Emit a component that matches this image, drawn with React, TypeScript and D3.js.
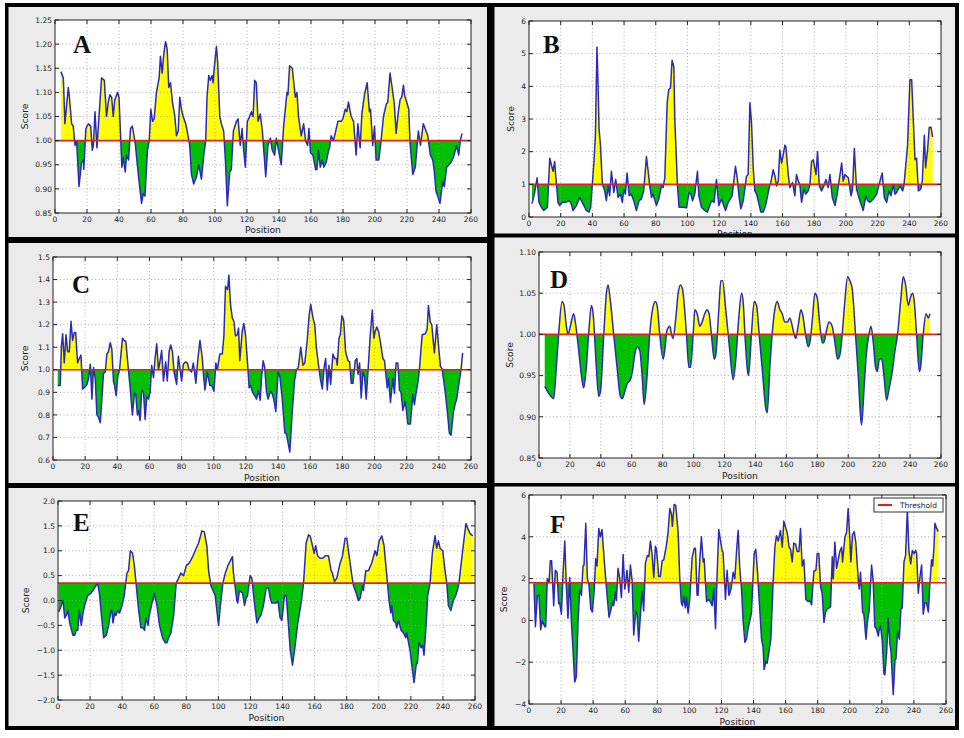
import React from 'react';
import * as d3 from 'd3';

type Pt = [number, number];

// position axis ticks shared by all panels
const positionTicks = [0, 20, 40, 60, 80, 100, 120, 140, 160, 180, 200, 220, 240, 260];

const scoreTicksA = [0.85, 0.9, 0.95, 1.0, 1.05, 1.1, 1.15, 1.2, 1.25];
const scoreTicksB = [0, 1, 2, 3, 4, 5, 6];
const scoreTicksC = [0.6, 0.7, 0.8, 0.9, 1.0, 1.1, 1.2, 1.3, 1.4, 1.5];
const scoreTicksD = [0.85, 0.9, 0.95, 1.0, 1.05, 1.1];
const scoreTicksE = [-2, -1.5, -1, -0.5, 0, 0.5, 1, 1.5, 2];
const scoreTicksF = [-4, -2, 0, 2, 4, 6];

const thresholds = [1.0, 1.0, 1.0, 1.0, 0.35, 1.8];
const panelLetters = ['A', 'B', 'C', 'D', 'E', 'F'];

// [position, score]
const seriesA: Pt[] = [[3.7,1.143],[5.2,1.13],[6.2,1.035],[8.3,1.11],[9,1.09],[10.4,1.035],[11.4,1.03],[12.5,0.99],[13.5,1.0],[15,0.905],[16.6,0.955],[17.7,0.96],[18,0.94],[19.3,1.025],[20.8,1.035],[22.3,1.03],[23.3,0.98],[24,0.99],[25,1.06],[26.2,0.985],[29.1,1.13],[30.8,1.125],[32.2,1.05],[33.3,1.08],[34.3,1.095],[35.4,1.09],[36.4,1.05],[37.4,1.085],[38,1.09],[39.1,1.1],[40,1.09],[41.8,0.945],[42.6,0.965],[43.9,0.935],[44.7,0.97],[46,0.96],[47.2,1.025],[48.3,1.03],[48.9,1.02],[50.3,0.99],[51,0.965],[52.4,0.92],[54.1,0.87],[55.1,0.89],[56.2,0.885],[57.8,0.98],[58.9,1.0],[59.9,1.065],[61,1.04],[62,1.045],[63.4,1.1],[65.1,1.13],[65.9,1.175],[67,1.14],[68,1.18],[69.1,1.205],[70.1,1.19],[71.1,1.11],[72.2,1.12],[73.4,1.08],[74.9,1.05],[75.9,1.01],[77,1.02],[78,1.09],[79,1.065],[80.1,1.05],[81.7,1.035],[82.6,1.02],[84.2,0.99],[85.3,0.93],[86.7,0.91],[88.4,0.925],[89.9,0.95],[91.5,0.92],[93,0.97],[94.2,1.0],[95,1.09],[96.1,1.135],[97.1,1.125],[98.2,1.135],[98.8,1.12],[99.8,1.16],[100.9,1.195],[101.7,1.16],[103,1.05],[104,1.035],[105.4,1.02],[106.5,0.96],[107.7,0.865],[109.2,0.935],[110.2,0.94],[111.5,1.02],[113.4,1.04],[114.4,1.045],[115.8,0.99],[116.9,1.025],[117.9,0.98],[119,0.945],[120.2,1.04],[121.7,1.05],[122.7,1.06],[123.8,1.05],[124.8,1.125],[125.8,1.12],[126.9,1.04],[128.3,1.055],[129.6,1.02],[131.7,0.925],[133.1,0.99],[134.6,1.005],[135.8,0.98],[137.3,0.97],[138.3,1.005],[140,0.975],[141.4,0.95],[142.9,1.03],[145,1.1],[145.6,1.095],[146.6,1.155],[148.3,1.15],[150.2,1.09],[151.2,1.1],[152.2,1.05],[153.9,1.01],[155.4,1.035],[156.6,1.0],[157.9,0.99],[158.7,1.025],[159.7,0.975],[161.2,0.97],[162.9,0.94],[163.7,0.94],[164.7,0.98],[165.8,0.945],[167,0.96],[168,0.945],[169.5,0.955],[171,0.98],[171.6,0.985],[172.6,1.01],[174.1,1.0],[176.8,1.04],[178.9,1.04],[179.9,1.045],[181.4,1.065],[182.4,1.06],[183.4,1.08],[185.1,1.05],[186.6,1.04],[188.2,0.97],[189.3,1.035],[190.7,0.985],[191.8,1.055],[193.4,1.095],[195.1,1.12],[196.5,1.06],[197.2,1.065],[198.6,0.99],[199.7,1.03],[200.7,0.96],[202.4,0.96],[203.8,1.0],[205.3,1.05],[207,1.075],[208,1.08],[209.4,1.14],[210.7,1.11],[212.1,1.075],[213.2,1.015],[214.6,1.06],[215.7,1.085],[216.7,1.09],[217.8,1.115],[218.4,1.095],[219.8,1.08],[221.1,1.065],[221.9,0.995],[223.6,0.93],[225.2,0.945],[227.1,1.02],[228.4,0.99],[230.2,1.035],[231.9,1.02],[233,1.01],[234.6,0.97],[236.1,0.96],[237.1,0.935],[238.1,0.895],[239.2,0.885],[240.6,0.87],[242.3,0.915],[243.3,0.905],[244.8,0.945],[247.5,0.955],[249,0.965],[251,0.99],[252.3,0.97],[253.3,1.0],[254.4,1.015]];

const seriesB: Pt[] = [[1.9,0.41],[3.6,0.75],[5.1,1.2],[6.3,0.45],[7.8,0.3],[9.3,0.2],[10.5,0.25],[11.6,0.3],[13.1,1.8],[14.1,1.6],[15.2,1.4],[16.2,1.7],[16.8,1.3],[18.3,0.45],[19.4,0.35],[21.1,0.45],[23.2,0.45],[25.3,0.5],[26.7,0.4],[27.8,0.2],[29.9,0.35],[32,0.6],[34.1,0.4],[36.2,0.2],[37.9,0.15],[38.9,0.3],[41,1.7],[41.9,2.5],[42.9,5.2],[43.6,4.0],[44.2,2.7],[45.1,2.2],[46.3,1.0],[47.8,0.8],[48.8,0.5],[49.9,0.95],[50.9,0.65],[52,1.4],[53.5,0.75],[54.7,1.15],[56.2,0.6],[57.7,0.7],[58.9,0.45],[59.8,0.85],[60.8,0.7],[61.9,1.35],[63.2,0.65],[64.6,0.7],[66.1,0.5],[67.8,0.2],[69.5,0.5],[70.9,0.55],[72.4,0.8],[74.1,1.85],[75.2,1.4],[76.2,0.95],[77.3,0.6],[78.3,0.7],[80.4,0.35],[81.9,0.55],[83.6,0.95],[84.6,0.9],[85.7,1.2],[87.2,3.5],[88.2,3.9],[89.3,3.95],[90.3,4.8],[91.4,4.6],[92,3.0],[93.7,0.95],[94.7,0.3],[97.3,0.3],[99.4,0.28],[101,0.75],[102.1,0.7],[103.2,0.5],[104.6,0.7],[106.3,1.4],[107.2,0.65],[108.8,0.3],[110.9,0.2],[112.6,0.15],[115.2,0.5],[116.8,0.45],[118.3,1.15],[119.8,0.35],[121.5,0.55],[124,0.2],[125.7,0.45],[128.2,0.65],[130.3,1.55],[131.4,1.2],[132.6,0.6],[133.7,0.25],[135.2,0.5],[137.3,1.25],[138.3,1.3],[139.4,3.5],[140.4,2.9],[141.5,1.5],[142.5,0.8],[143.6,0.7],[145.1,0.4],[146.3,0.15],[147.8,0.15],[149.3,0.35],[151.6,0.9],[152.6,1.05],[154.1,1.45],[155.2,1.25],[156.2,0.95],[157.3,1.1],[158.3,2.05],[159.4,1.65],[160.4,1.9],[161.5,2.2],[162.1,2.15],[163.6,1.3],[164.6,0.9],[166.3,1.05],[167.8,0.65],[168.8,1.3],[169.9,1.1],[170.9,1.0],[172,0.45],[173.5,0.85],[174.7,0.7],[176.2,0.8],[177.3,1.0],[178.3,1.7],[179.4,1.75],[181.1,1.3],[182.1,2.0],[183.2,0.95],[184.6,0.8],[186.1,0.95],[187.4,1.15],[188.8,0.9],[189.9,1.3],[191.4,0.6],[193.1,0.35],[194.5,0.7],[197.3,1.65],[198.3,1.1],[199.4,1.3],[200.4,1.25],[201.5,1.2],[203.2,0.65],[204.2,0.85],[205.3,2.1],[206.7,0.85],[208.8,0.5],[210.9,0.2],[212.6,0.65],[213.7,0.5],[215.2,0.45],[217.3,0.55],[219.4,0.7],[221.5,1.1],[222.9,1.35],[224.2,0.6],[225.7,0.45],[227.2,0.8],[228.4,0.65],[229.9,1.0],[230.9,0.7],[232,0.75],[234.1,0.95],[235.8,0.8],[236.6,0.95],[238.9,2.2],[240.4,4.2],[241.5,4.2],[242.5,3.0],[243.6,1.75],[244.6,1.8],[245.7,0.8],[247.2,0.85],[248.2,1.1],[249.5,2.5],[250.3,1.5],[251.6,2.1],[252.6,2.75],[253.7,2.75],[254.7,2.45]];

const seriesC: Pt[] = [[2.9,0.93],[4.5,0.93],[5.2,1.1],[6,1.16],[7,1.03],[8.1,1.155],[9.1,1.08],[10.1,1.08],[11.2,1.215],[12.2,1.13],[13.2,1.165],[14.1,1.165],[15.3,1.03],[16.3,1.05],[17.4,1.065],[18.4,0.915],[19.4,0.92],[21.1,0.935],[22.1,0.96],[23.2,1.025],[24.2,0.87],[25.2,1.01],[26.3,0.96],[27.3,0.8],[28.3,0.79],[29.4,0.765],[30.4,0.87],[31.4,0.985],[32.5,0.99],[33.5,1.07],[34.5,1.08],[35.6,1.12],[36.6,1.09],[37.6,0.95],[38.3,0.93],[39.3,0.885],[40.3,0.97],[41.4,1.0],[43.2,1.14],[44.3,1.13],[45.3,1.125],[46.9,1.0],[48,0.92],[49.4,0.8],[50.7,0.9],[51.5,0.89],[52.5,0.8],[53.2,0.82],[54.2,0.775],[55.2,0.91],[56.3,0.9],[57.3,0.78],[58.3,0.88],[59.4,0.87],[60.4,0.9],[61.4,1.02],[62.5,0.965],[63.5,1.05],[64.5,1.115],[65.6,1.0],[66.6,1.04],[67.6,1.085],[68.7,0.95],[70.1,1.035],[71.1,0.95],[72.2,1.08],[73.2,1.11],[74.3,1.08],[75.3,0.99],[76.9,0.935],[78,1.06],[80,0.95],[81.1,1.025],[82.5,1.035],[83.6,1.03],[84.6,1.0],[86.2,0.99],[87.3,1.03],[88.9,0.94],[90,1.04],[91.4,1.13],[92.9,1.05],[93.5,0.985],[94.5,0.91],[96,0.99],[97.6,0.93],[98.7,0.93],[100.1,0.905],[101.3,1.03],[102.2,1.0],[103.8,1.07],[105.3,1.07],[106.3,1.15],[107.3,1.37],[108.6,1.355],[109.4,1.42],[110.4,1.29],[111.5,1.23],[112.5,1.215],[113.5,1.15],[114.6,1.155],[115.4,1.185],[116.2,1.04],[117.7,1.17],[118.7,1.205],[119.8,1.15],[121,1.03],[122,0.92],[122.9,0.93],[124.1,0.9],[125.5,0.885],[126.6,0.87],[127.6,0.91],[128.9,0.865],[129.7,0.965],[130.7,1.04],[131.7,1.01],[132.8,0.9],[133.8,0.87],[135.3,0.905],[136.3,0.895],[137.3,0.87],[138.6,0.815],[140,0.99],[141.1,0.97],[142.5,0.88],[144.2,0.72],[145.2,0.715],[147.3,0.635],[148.7,0.8],[150.2,0.95],[151.4,1.0],[152.6,1.01],[154.1,1.1],[155.5,1.02],[156.6,1.03],[158,1.12],[159.3,1.24],[160.3,1.29],[161.7,1.23],[162.8,1.2],[163.8,1.1],[164.8,1.04],[166.3,0.96],[167.5,0.915],[168.6,1.01],[169.6,1.05],[170.6,0.91],[171.7,1.02],[172.7,0.935],[174.1,1.07],[175.2,1.05],[176.2,1.05],[176.8,1.02],[177.9,1.14],[178.7,1.155],[179.7,1.24],[180.8,1.22],[182,1.08],[183.5,1.04],[184.5,1.035],[185.5,0.94],[186.6,0.94],[188,1.04],[189,1.05],[189.7,0.98],[190.7,1.03],[191.7,0.875],[192.8,0.99],[193.8,0.97],[194.8,0.87],[195.9,0.99],[197.3,1.15],[198.6,1.265],[199.6,1.14],[200.4,1.17],[201.4,1.19],[202.5,1.17],[203.7,1.12],[205.2,1.05],[206.2,1.04],[207.9,0.92],[208.7,0.96],[209.9,0.855],[211.4,0.96],[212.4,0.895],[213.4,1.03],[214.5,1.03],[215.5,0.91],[216.5,0.9],[217.6,0.82],[218.6,0.845],[219.2,0.86],[220.7,0.76],[222.3,0.76],[223.8,0.89],[224.8,0.845],[225.9,0.9],[226.9,0.94],[227.9,1.0],[229.6,1.155],[231.6,1.16],[232.7,1.18],[233.5,1.285],[234.7,1.21],[235.6,1.2],[237.2,1.075],[238.7,1.2],[239.9,1.1],[241,1.015],[242,1.005],[243.8,0.91],[245.5,0.8],[246.5,0.72],[247.6,0.71],[249,0.81],[250,0.845],[251.1,0.87],[252.7,0.95],[253.8,1.0],[254.8,1.075]];

const seriesD: Pt[] = [[3.7,0.937],[5.8,0.93],[7.6,0.925],[9.5,0.922],[11.2,0.96],[12.7,1.0],[14.9,1.04],[16.2,1.035],[17.7,1.01],[18.8,1.0],[20.3,1.01],[22.4,1.025],[23.5,1.015],[25.7,0.98],[27.8,0.945],[28.9,0.935],[30.6,0.96],[32.1,1.0],[33.9,1.035],[35,1.025],[37.1,0.96],[38.6,0.925],[39.7,0.93],[41.9,1.0],[43.6,1.05],[44.7,1.06],[46.2,1.04],[48.3,1.0],[50.5,0.96],[52.6,0.925],[53.9,0.922],[55.4,0.93],[57,0.94],[59.1,0.945],[60.4,0.955],[61.9,0.975],[63.6,0.985],[65.2,0.98],[66.7,0.95],[68,0.915],[69.5,0.94],[71.6,1.0],[73.4,1.03],[75.3,1.04],[76.4,1.035],[78.1,1.0],[80.3,0.97],[81.3,0.98],[82.8,1.005],[84.6,1.01],[85.7,1.0],[86.7,0.995],[88.5,1.02],[90,1.05],[91.5,1.06],[92.8,1.055],[95.4,1.0],[96.9,0.96],[98,0.96],[99.7,1.0],[100.8,1.03],[102.3,1.025],[104,1.01],[105.5,1.015],[107.2,1.025],[108.7,1.03],[110,1.025],[111.5,1.0],[113.3,0.97],[114.3,0.975],[116.3,1.03],[117.6,1.065],[118.7,1.065],[120.8,1.03],[123.4,0.98],[125.6,0.945],[127.3,0.97],[129.2,1.02],[131,1.05],[132,1.04],[133.5,0.99],[134.6,0.96],[135.5,0.95],[137.4,1.0],[139.2,1.04],[140.7,1.035],[142.4,1.0],[144.5,0.955],[146.7,0.91],[147.6,0.905],[149.3,0.96],[150.8,1.0],[152.5,1.03],[154,1.04],[155.8,1.03],[157.3,1.025],[159,1.015],[160.7,1.015],[162.2,1.02],[163.8,1.01],[165,1.0],[166.1,0.995],[167.6,1.01],[169.4,1.03],[170.4,1.025],[172.4,1.0],[174.1,0.985],[175.2,0.99],[176.9,1.02],[178.4,1.05],[179.9,1.045],[181.7,1.01],[183.2,0.99],[184.2,0.99],[186,1.005],[187.5,1.015],[189.6,1.01],[191.4,0.99],[193.1,0.97],[194.6,0.975],[196.1,1.0],[197.8,1.04],[199.6,1.07],[201.1,1.065],[202.6,1.055],[204.7,1.0],[206.5,0.95],[208,0.9],[208.6,0.89],[210.4,0.94],[211.9,0.98],[213.4,1.0],[214.7,1.01],[216.2,0.99],[217.7,0.96],[218.8,0.955],[220.1,0.97],[221.6,0.97],[223.1,0.95],[224.8,0.92],[226.5,0.935],[228.5,0.955],[230.2,0.98],[231.9,1.0],[233.9,1.04],[235.6,1.07],[237.1,1.06],[238.8,1.035],[240.3,1.045],[241.6,1.05],[242.7,1.04],[244.2,1.0],[246,0.955],[246.8,0.96],[248.5,1.0],[250.3,1.025],[251.8,1.02],[252.9,1.025]];

const seriesE: Pt[] = [[0.4,-0.23],[1.5,-0.15],[2.5,-0.05],[3.1,0.0],[4.2,-0.35],[5.2,-0.3],[6.2,-0.2],[7.3,-0.45],[8.1,-0.55],[9.3,-0.7],[10.4,-0.7],[11.4,-0.6],[12.3,-0.6],[13.3,-0.2],[14.5,-0.5],[15.6,-0.25],[16.6,-0.1],[18.5,0.1],[20.6,0.15],[21.8,0.2],[23.7,0.3],[24.7,0.35],[25.8,0.15],[26.8,-0.2],[28.5,-0.75],[30.1,-0.7],[31.6,-0.5],[33,-0.2],[33.6,-0.2],[34.3,-0.45],[35.3,-0.25],[36.1,-0.3],[37.2,-0.2],[38.4,-0.25],[39.9,-0.1],[41.3,0.1],[43,0.55],[44,0.6],[45.1,1.0],[46.5,0.95],[47.6,0.7],[48.8,0.3],[50.3,-0.2],[51.7,-0.55],[53,-0.55],[54,-0.6],[54.8,-0.35],[56.1,-0.5],[56.9,-0.3],[58.6,-0.05],[59.2,0.0],[60,0.15],[61.7,-0.1],[63.3,-0.5],[65.2,-0.75],[66.9,-0.85],[67.9,-0.85],[69,-0.75],[70.4,-0.65],[72.1,-0.3],[73.7,0.35],[75.2,0.45],[76.6,0.55],[78.3,0.5],[80,0.7],[81.8,0.75],[83.5,0.85],[86.2,1.05],[87.6,1.15],[89.7,1.4],[91.2,1.38],[92.8,1.1],[93.9,0.6],[95.3,0.3],[98,0.1],[100.1,-0.5],[101.1,-0.15],[102.8,0.35],[104.3,0.55],[105.9,0.7],[108.8,0.88],[109.4,0.55],[111.5,0.0],[112.1,-0.05],[113.1,0.2],[115.1,0.15],[116.3,-0.1],[117.3,0.05],[118.2,0.1],[119.8,0.5],[120.9,0.45],[122.3,0.0],[124,-0.45],[125.4,-0.35],[126.5,-0.3],[128.1,-0.1],[129.8,0.25],[131.3,0.25],[132.3,0.05],[133.3,-0.05],[136,-0.05],[137.1,0.0],[138.5,-0.35],[139.6,-0.4],[141.2,0.1],[142.3,0.1],[143.7,-0.5],[144.8,-1.0],[146.2,-1.3],[147.5,-1.0],[149.3,-0.5],[151.6,-0.05],[153.1,0.35],[154.7,1.15],[156.2,1.32],[157.2,1.3],[158.3,1.15],[159.7,0.95],[160.7,1.1],[161.8,0.9],[163.4,0.85],[165.1,0.85],[166.6,0.9],[168.6,0.9],[170.3,0.6],[171.1,0.55],[172.4,0.38],[173.8,0.45],[175.9,0.75],[177.4,0.9],[179,1.25],[180.1,1.25],[181.1,1.0],[183.2,0.5],[184.2,0.3],[185.9,0.15],[187.3,0.0],[188.4,0.05],[189.8,0.3],[190.4,0.2],[191.9,0.6],[193.6,0.6],[195.6,0.75],[197.7,1.0],[198.8,0.9],[200.2,1.2],[201.9,1.3],[203.3,1.1],[205,0.5],[206.4,0.0],[207.5,-0.25],[208.1,-0.1],[209.1,-0.4],[210.6,-0.45],[211.2,-0.55],[212.3,-0.4],[213.9,-0.6],[215.4,-0.65],[216.8,-0.75],[217.4,-0.65],[219.5,-1.0],[221,-1.4],[222,-1.65],[223.3,-1.3],[224.1,-1.25],[225.1,-0.85],[226.4,-0.95],[227.4,-0.9],[228.2,-1.1],[229.5,-0.5],[230.5,0.1],[232,0.35],[233.4,0.95],[235.1,1.3],[236.1,1.05],[237.2,1.2],[238.2,1.05],[239.9,1.0],[241.3,0.6],[242.4,0.35],[243.4,-0.1],[244.9,-0.2],[246.5,0.0],[248,0.1],[249,0.2],[250,0.35],[252.3,1.0],[253.4,1.3],[254.4,1.55],[255.5,1.45],[256.9,1.35],[258.6,1.3]];

const seriesF: Pt[] = [[3.1,1.77],[4,-0.3],[5.2,1.2],[6.2,1.2],[7.3,-0.45],[8.3,0.0],[9.8,-0.3],[10.4,-0.3],[11.4,2.0],[12.5,1.8],[13.3,2.85],[14.1,2.85],[15.4,0.7],[16.4,2.4],[17.5,2.3],[18.5,0.8],[19.1,0.85],[20.2,0.3],[21.2,2.2],[22.3,3.8],[23.3,1.6],[24.3,0.1],[25.4,2.05],[26.4,0.0],[27.5,-1.5],[28.5,-2.95],[29.5,-2.7],[30.6,0.0],[31.6,1.5],[32.7,1.2],[33.7,2.6],[34.3,2.65],[35.4,4.65],[36.4,2.0],[37.4,1.7],[38.5,0.55],[39.5,0.4],[40.6,1.4],[41.6,2.95],[42.4,2.6],[43.5,4.4],[44.5,4.0],[45.5,4.35],[46.8,3.0],[47.8,2.0],[48.9,1.0],[49.9,0.15],[51,0.5],[52,0.85],[52.8,0.7],[53.9,1.35],[54.5,0.95],[55.5,2.5],[56.6,2.0],[57.6,1.1],[58.7,3.15],[59.7,1.5],[60.3,1.8],[61.1,2.4],[62.2,1.35],[63.2,2.65],[64.3,1.9],[65.3,-0.7],[66.6,0.45],[67.4,0.3],[68.4,-1.0],[69.5,0.3],[70.5,1.4],[71.5,0.45],[72.6,2.75],[73.8,3.1],[74.7,3.05],[75.7,3.8],[76.7,3.2],[77.8,2.05],[78.8,3.55],[79.5,3.4],[80.9,2.1],[81.9,2.1],[83,2.85],[84,2.9],[85.7,3.6],[86.7,4.2],[87.8,5.35],[88.8,5.1],[89.4,4.5],[90.5,5.55],[91.5,5.5],[93,4.2],[94,2.0],[95,0.85],[95.7,0.7],[96.5,1.15],[97.5,0.6],[98.2,1.1],[99.2,0.35],[100.2,1.0],[101.7,3.0],[103,3.45],[103.8,3.45],[104.8,1.2],[105.4,1.2],[106.5,2.9],[107.5,4.0],[108.6,2.8],[109.2,2.95],[110.7,0.9],[111.7,1.0],[113.1,0.9],[114.2,0.7],[115.2,1.55],[116.3,-0.4],[117.3,2.2],[118.3,4.35],[119.4,3.8],[120.4,3.35],[121,3.25],[122.5,1.0],[123.5,2.4],[124.6,1.2],[125.2,1.3],[126.2,1.6],[127.3,2.3],[128.3,2.0],[129.4,3.3],[130.4,4.3],[131.4,2.5],[132.5,1.5],[133.5,0.0],[134.6,-1.05],[135.6,-0.9],[136.6,-0.4],[137.7,0.0],[138.7,0.35],[140.4,3.2],[141.4,3.4],[142.5,2.3],[143.5,1.0],[145,-0.9],[146,-1.3],[146.6,-2.35],[147.7,-1.95],[148.5,-2.05],[150.2,-1.2],[150.8,-0.9],[152.2,1.8],[153.3,3.5],[154.3,4.05],[155.4,3.8],[156.8,4.3],[157.9,3.5],[158.9,4.75],[160.2,4.4],[161,4.2],[162.2,3.5],[163.1,3.4],[164.1,2.8],[165.1,3.7],[166.2,3.65],[167.2,3.3],[168.3,3.3],[169.3,4.4],[170.3,2.6],[171.4,2.9],[172.6,1.0],[174.1,0.9],[175.1,0.95],[176.2,0.75],[177.6,2.35],[178.9,2.4],[179.7,3.2],[180.7,3.2],[181.8,1.6],[182.8,1.3],[183.9,-0.1],[184.9,0.4],[185.9,0.55],[187.2,0.6],[188,0.65],[189.1,3.05],[189.7,2.0],[190.7,3.75],[191.8,2.5],[192.8,2.9],[193.8,3.3],[194.9,3.5],[195.5,2.8],[197,4.0],[198,4.2],[199,5.35],[200.1,3.8],[200.7,2.8],[201.7,4.1],[202.8,4.25],[203.8,3.7],[205.3,1.95],[205.9,1.5],[206.7,2.3],[208,0.4],[208.8,0.3],[210.1,-0.9],[211.1,0.0],[212.1,0.45],[213.6,2.65],[214.6,1.9],[215.6,-0.3],[216.6,-0.4],[217.8,-0.75],[218.2,-0.5],[219.2,-0.25],[220.3,-1.0],[221.3,-2.55],[221.9,-2.6],[223,-1.5],[224,0.1],[225,-1.1],[225.7,-1.5],[227.1,-3.55],[228.2,-1.9],[228.8,-1.85],[229.8,-0.5],[230.9,-0.9],[231.9,0.55],[232.7,0.6],[233.8,2.8],[234.8,3.1],[235.9,5.3],[236.9,3.3],[238,2.7],[239,3.35],[240.1,3.2],[241.1,3.35],[241.7,3.2],[242.7,1.3],[243.8,2.1],[244.8,2.65],[245.8,0.3],[246.9,0.85],[247.9,0.85],[249,0.4],[250,1.8],[251,2.9],[251.7,2.6],[252.5,3.5],[253.1,4.65],[254.2,4.4],[255.2,4.25]];

// panel geometry (pixels)
interface Box {
  l: number; r: number; t: number; b: number;
  bgX: number; bgY: number; bgW: number; bgH: number;
  letterX: number; letterY: number; scoreX: number; posY: number;
}
const boxes: Box[] = [
  { l: 55, r: 471, t: 20, b: 213, bgX: 8, bgY: 7, bgW: 479, bgH: 230, letterX: 73, letterY: 53, scoreX: 25, posY: 233 },
  { l: 529, r: 941, t: 21, b: 217, bgX: 494, bgY: 7, bgW: 461, bgH: 227, letterX: 543, letterY: 53, scoreX: 511, posY: 237 },
  { l: 53, r: 471, t: 257, b: 460, bgX: 8, bgY: 243, bgW: 479, bgH: 240, letterX: 72, letterY: 293, scoreX: 25, posY: 481 },
  { l: 539, r: 941, t: 252, b: 458, bgX: 494, bgY: 237, bgW: 461, bgH: 246, letterX: 550, letterY: 288, scoreX: 510, posY: 479 },
  { l: 58, r: 475, t: 501, b: 700, bgX: 8, bgY: 488, bgW: 479, bgH: 238, letterX: 73, letterY: 531, scoreX: 26, posY: 721 },
  { l: 529, r: 946, t: 495, b: 704, bgX: 494, bgY: 486, bgW: 461, bgH: 240, letterX: 550, letterY: 533, scoreX: 504, posY: 725 },
];

// black frame around and between the six panels: [x, y, w, h]
const frameBars = [
  [5, 3, 954, 4], [5, 726, 954, 4], [5, 3, 3.5, 727], [955, 3, 4, 727],
  [487, 3, 7.5, 727], [5, 237, 482, 6], [494, 233.5, 465, 4],
  [5, 483, 482, 5], [494, 483, 465, 3.5],
];

const seriesList = [seriesA, seriesB, seriesC, seriesD, seriesE, seriesF];
const tickList = [scoreTicksA, scoreTicksB, scoreTicksC, scoreTicksD, scoreTicksE, scoreTicksF];
const fmtList = [d3.format('.2f'), d3.format('d'), d3.format('.1f'), d3.format('.2f'), d3.format('.1f'), d3.format('d')];

const tickFont = { fontFamily: 'DejaVu Sans, sans-serif', fontSize: 7.5, fill: '#222' };
const labelFont = { fontFamily: 'DejaVu Sans, sans-serif', fontSize: 9.2, fill: '#222' };

const Panel: React.FC<{ idx: number }> = ({ idx }) => {
  const bx = boxes[idx];
  const data = seriesList[idx];
  const ticks = tickList[idx];
  const fmt = fmtList[idx];
  const thr = thresholds[idx];

  const x = d3.scaleLinear().domain([0, 260]).range([bx.l, bx.r]);
  const y = d3.scaleLinear().domain([ticks[0], ticks[ticks.length - 1]]).range([bx.b, bx.t]);
  const curve = idx === 3 ? d3.curveMonotoneX : d3.curveLinear;

  const area = d3.area<Pt>().x(d => x(d[0])).y0(y(thr)).y1(d => y(d[1])).curve(curve);
  const line = d3.line<Pt>().x(d => x(d[0])).y(d => y(d[1])).curve(curve);
  const ty = y(thr);
  const upId = `up-${idx}`;
  const dnId = `dn-${idx}`;

  return (
    <g>
      <rect x={bx.bgX} y={bx.bgY} width={bx.bgW} height={bx.bgH} fill="#ebebeb" />
      <rect x={bx.l} y={bx.t} width={bx.r - bx.l} height={bx.b - bx.t} fill="#fff" />
      <defs>
        <clipPath id={upId}><rect x={bx.l} y={bx.t} width={bx.r - bx.l} height={ty - bx.t} /></clipPath>
        <clipPath id={dnId}><rect x={bx.l} y={ty} width={bx.r - bx.l} height={bx.b - ty} /></clipPath>
      </defs>
      <path d={area(data) || ''} fill="#ffff00" clipPath={`url(#${upId})`} />
      <path d={area(data) || ''} fill="#00c000" clipPath={`url(#${dnId})`} />
      {positionTicks.slice(1, -1).map(t => (
        <line key={'gx' + t} x1={x(t)} x2={x(t)} y1={bx.t} y2={bx.b} stroke="#999" strokeWidth={0.8} strokeDasharray="1,2.5" />
      ))}
      {ticks.slice(1, -1).map(t => (
        <line key={'gy' + t} x1={bx.l} x2={bx.r} y1={y(t)} y2={y(t)} stroke="#999" strokeWidth={0.8} strokeDasharray="1,2.5" />
      ))}
      <path d={line(data) || ''} fill="none" stroke="#2a2ab8" strokeWidth={1.5} strokeLinejoin="round" />
      <line x1={bx.l} x2={bx.r} y1={ty} y2={ty} stroke="#e02020" strokeWidth={1.6} />
      <rect x={bx.l} y={bx.t} width={bx.r - bx.l} height={bx.b - bx.t} fill="none" stroke="#222" strokeWidth={1} />
      {positionTicks.map(t => (
        <g key={'tx' + t}>
          <line x1={x(t)} x2={x(t)} y1={bx.b} y2={bx.b - 4} stroke="#222" />
          <line x1={x(t)} x2={x(t)} y1={bx.t} y2={bx.t + 4} stroke="#222" />
          <text x={x(t)} y={bx.b + 9} textAnchor="middle" {...tickFont}>{t}</text>
        </g>
      ))}
      {ticks.map(t => (
        <g key={'ty' + t}>
          <line x1={bx.l} x2={bx.l + 4} y1={y(t)} y2={y(t)} stroke="#222" />
          <line x1={bx.r} x2={bx.r - 4} y1={y(t)} y2={y(t)} stroke="#222" />
          <text x={bx.l - 3} y={y(t) + 2.7} textAnchor="end" {...tickFont}>{fmt(t)}</text>
        </g>
      ))}
      <text x={(bx.l + bx.r) / 2} y={bx.posY} textAnchor="middle" {...labelFont}>Position</text>
      <text transform={`translate(${bx.scoreX},${(bx.t + bx.b) / 2}) rotate(-90)`} textAnchor="middle" dy="0.35em" {...labelFont}>Score</text>
      <text x={bx.letterX} y={bx.letterY} fontFamily="Liberation Serif, Times New Roman, serif" fontWeight="bold" fontSize={25} fill="#111">
        {panelLetters[idx]}
      </text>
    </g>
  );
};

const App: React.FC = () => {
  return (
    <svg width={964} height={738} style={{ position: 'absolute', left: 0, top: 0, background: '#fff' }}>
      {panelLetters.map((_, i) => <Panel key={i} idx={i} />)}
      {/* legend of panel F */}
      <g>
        <rect x={874} y={498} width={69} height={14} fill="#fff" stroke="#333" strokeWidth={1} />
        <line x1={878} x2={892} y1={505} y2={505} stroke="#e02020" strokeWidth={2} />
        <text x={900} y={508} {...tickFont}>Threshold</text>
      </g>
      {frameBars.map((b, i) => (
        <rect key={i} x={b[0]} y={b[1]} width={b[2]} height={b[3]} fill="#000" />
      ))}
    </svg>
  );
};

export default App;
